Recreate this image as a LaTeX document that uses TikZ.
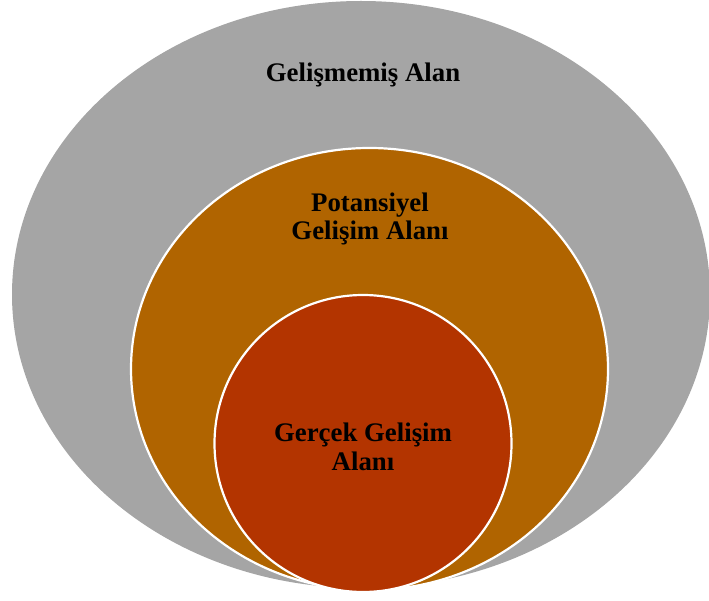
\documentclass[tikz,border=0pt]{standalone}
\usepackage{fontspec}
\setmainfont{Liberation Serif}
\definecolor{zoneGray}{RGB}{165,165,165}
\definecolor{zoneOrange}{RGB}{176,100,0}
\definecolor{zoneRed}{RGB}{179,52,0}
\begin{document}
\begin{tikzpicture}[x=1pt,y=-1pt,
  zone/.style={draw=white,line width=2.2pt},
  zonelabel/.style={font=\bfseries\fontsize{26.8}{28.5}\selectfont,align=center,text=black,inner sep=0pt}]
\useasboundingbox (0,0) rectangle (709,601);
\begin{scope}
\clip (0,0) rectangle (709,601);
% outer zone
\fill[zoneGray] (361,294.5) ellipse [x radius=349,y radius=293.5];
\end{scope}
% potential development zone
\filldraw[zone,fill=zoneOrange] (369.5,369) ellipse [x radius=238.5,y radius=221];
% actual development zone
\filldraw[zone,fill=zoneRed] (363,443.5) circle [radius=148.5];
% labels
\node[zonelabel] (outer) at (363,75) {Gelişmemiş Alan};
\node[zonelabel] (middle) at (370,219) {Potansiyel\\Gelişim Alanı};
\node[zonelabel] (inner) at (363,447) {Gerçek Gelişim\\Alanı};
\end{tikzpicture}
\end{document}
